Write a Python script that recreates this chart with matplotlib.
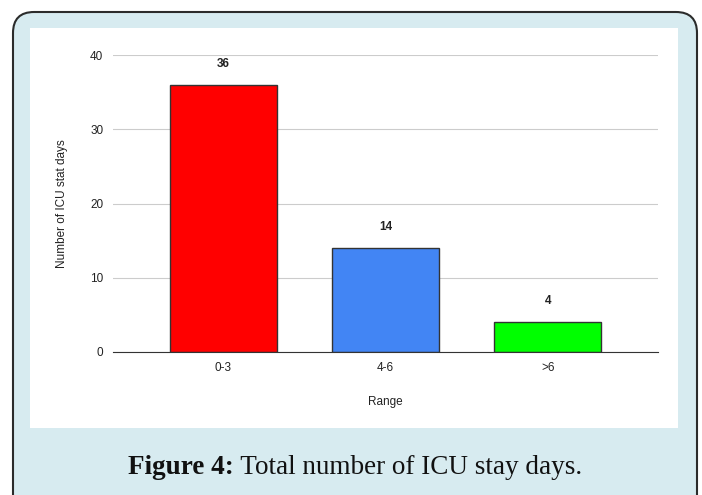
import matplotlib
matplotlib.use("Agg")
import matplotlib.pyplot as plt
from matplotlib.patches import FancyBboxPatch, Rectangle

categories = ["0-3", "4-6", ">6"]
values = [36, 14, 4]
colors = ["#ff0000", "#4285f4", "#00ff00"]
yticks = [0, 10, 20, 30, 40]

W, H = 702, 495
fig = plt.figure(figsize=(W / 100, H / 100), dpi=100)
fig.patch.set_facecolor("white")

# outer rounded box and white panel (pixel coords converted to figure fraction)
def fx(px):
    return px / W

def fy(py):
    return 1 - py / H

outer = FancyBboxPatch((fx(13), fy(520)), fx(697) - fx(13), fy(12) - fy(520),
                       boxstyle="round,pad=0,rounding_size=0.03",
                       transform=fig.transFigure, facecolor="#d7ebf0",
                       edgecolor="#2b2b2b", linewidth=1.5, mutation_aspect=W / H,
                       zorder=-2)
fig.patches.append(outer)
panel = Rectangle((fx(30), fy(428)), fx(678) - fx(30), fy(28) - fy(428),
                  transform=fig.transFigure, facecolor="white", edgecolor="none",
                  zorder=-1)
fig.patches.append(panel)

ax = fig.add_axes([fx(113), fy(352), fx(658) - fx(113), fy(55) - fy(352)])
ax.set_zorder(2)
ax.set_facecolor("none")
x = range(len(categories))
ax.bar(x, values, width=0.66, color=colors, edgecolor="#333333", linewidth=1, zorder=3)
for i, v in zip(x, values):
    ax.text(i, v + 2.0, str(v), ha="center", va="bottom", fontsize=8.5,
            fontweight="bold", family="Liberation Sans", color="#222222")

ax.set_xlim(-0.68, 2.68)
ax.set_ylim(0, 40)
ax.set_yticks(yticks)
ax.set_xticks(list(x))
ax.set_xticklabels(categories)
ax.grid(axis="y", color="#cccccc", linewidth=0.8, zorder=0)
ax.tick_params(length=0, labelsize=8.5, colors="#222222", pad=7)
for lab in ax.get_xticklabels() + ax.get_yticklabels():
    lab.set_family("Liberation Sans")
for s in ["left", "right", "top"]:
    ax.spines[s].set_visible(False)
ax.spines["bottom"].set_color("#333333")
ax.spines["bottom"].set_zorder(4)
ax.set_xlabel("Range", fontsize=8.5, family="Liberation Sans", color="#222222", labelpad=16)
ax.set_ylabel("Number of ICU stat days", fontsize=8.5, family="Liberation Sans",
              color="#222222", labelpad=16)

# caption with bold lead-in
renderer = fig.canvas.get_renderer()
cap_y = fy(467)
t1 = fig.text(0, cap_y, "Figure 4:", fontsize=19.5, fontweight="bold",
              family="Liberation Serif", va="center", ha="left", color="#111111")
t2 = fig.text(0, cap_y, " Total number of ICU stay days.", fontsize=19.5,
              family="Liberation Serif", va="center", ha="left", color="#111111")
w1 = t1.get_window_extent(renderer).width
w2 = t2.get_window_extent(renderer).width
start = (W / 2 + 4 - (w1 + w2) / 2)
t1.set_x(start / W)
t2.set_x((start + w1) / W)

fig.savefig("out.png", dpi=100)
